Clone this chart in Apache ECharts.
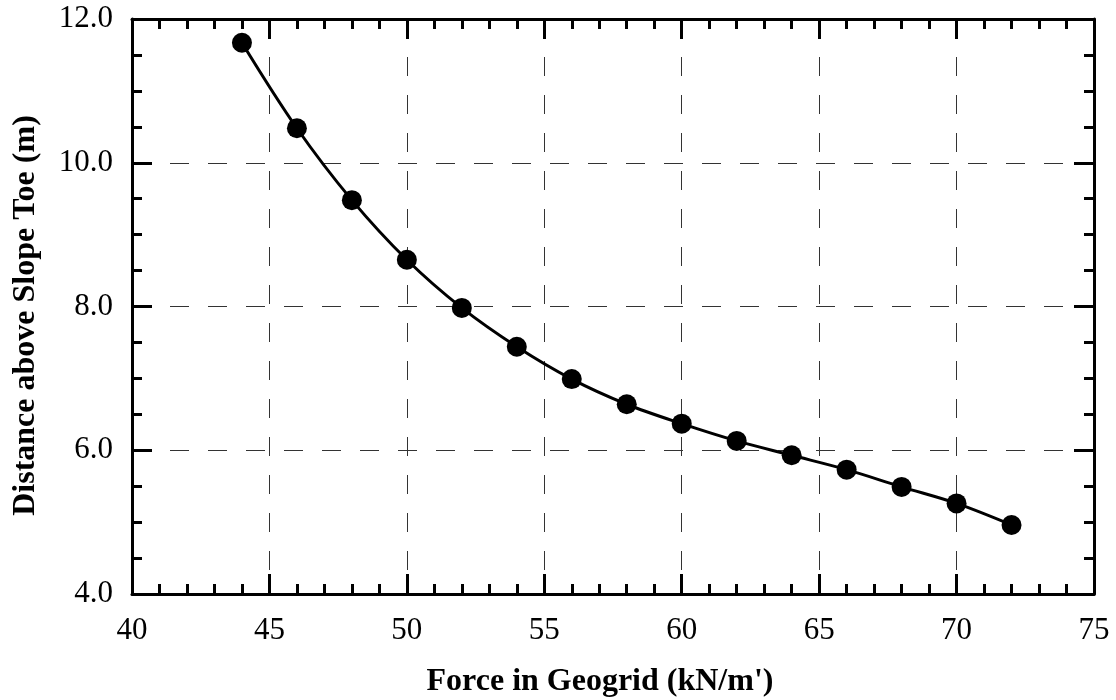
<!DOCTYPE html>
<html>
<head>
<meta charset="utf-8">
<script src="https://cdn.jsdelivr.net/npm/echarts@6/dist/echarts.min.js"></script>
<style>
  html, body { margin: 0; padding: 0; background: #fff; }
  #chart { width: 1116px; height: 700px; }
</style>
</head>
<body>
<div id="chart"></div>
<script>
// Geogrid force vs. height above the slope toe
const forceKN = [44, 46, 48, 50, 52, 54, 56, 58, 60, 62, 64, 66, 68, 70, 72];
const heightM = [11.67, 10.48, 9.48, 8.65, 7.98, 7.44, 6.99, 6.64, 6.37, 6.13, 5.93, 5.73, 5.49, 5.26, 4.96];

const xTicks = { min: 40, max: 75, interval: 5 };
const yTicks = { min: 4, max: 12, interval: 2 };

const FONT = "'Liberation Serif', 'Times New Roman', serif";
const INK = '#000';

const axisLine = { show: true, onZero: false, lineStyle: { color: INK, width: 3 } };
const majorTick = { show: true, inside: true, length: 20, lineStyle: { color: INK, width: 3 } };
const dashGrid = { show: true, lineStyle: { color: '#333', width: 1, type: [19, 19] } };

function minor(n) {
  return { show: true, splitNumber: n, length: 10, lineStyle: { color: INK, width: 3 } };
}

const chart = echarts.init(document.getElementById('chart'));
chart.setOption({
  animation: false,
  backgroundColor: '#fff',
  grid: { left: 132, right: 22, top: 19, bottom: 106, outerBoundsMode: 'none' },
  xAxis: [
    {
      type: 'value', position: 'bottom',
      min: xTicks.min, max: xTicks.max, interval: xTicks.interval,
      name: "Force in Geogrid (kN/m')", nameLocation: 'middle', nameGap: 72,
      nameTextStyle: {
        fontFamily: FONT, fontSize: 32, fontWeight: 'bold', color: INK,
        padding: [0, 26, 0, 0]
      },
      axisLine: axisLine, axisTick: majorTick, minorTick: minor(5),
      axisLabel: { fontFamily: FONT, fontSize: 31, color: INK, margin: 21 },
      splitLine: dashGrid
    },
    {
      type: 'value', position: 'top',
      min: xTicks.min, max: xTicks.max, interval: xTicks.interval,
      axisLine: axisLine, axisTick: majorTick, minorTick: minor(5),
      axisLabel: { show: false }, splitLine: { show: false }
    }
  ],
  yAxis: [
    {
      type: 'value', position: 'left',
      min: yTicks.min, max: yTicks.max, interval: yTicks.interval,
      name: 'Distance above Slope Toe (m)', nameLocation: 'middle', nameGap: 90,
      nameTextStyle: {
        fontFamily: FONT, fontSize: 32, fontWeight: 'bold', color: INK,
        padding: [0, 18, 0, 0]
      },
      axisLine: axisLine, axisTick: majorTick, minorTick: minor(4),
      axisLabel: {
        fontFamily: FONT, fontSize: 31, color: INK, margin: 19,
        formatter: v => v.toFixed(1)
      },
      splitLine: dashGrid
    },
    {
      type: 'value', position: 'right',
      min: yTicks.min, max: yTicks.max, interval: yTicks.interval,
      axisLine: axisLine, axisTick: majorTick, minorTick: minor(4),
      axisLabel: { show: false }, splitLine: { show: false }
    }
  ],
  series: [
    {
      type: 'line',
      xAxisIndex: 0, yAxisIndex: 0,
      data: forceKN.map((f, i) => [f, heightM[i]]),
      smooth: 0.35,
      symbol: 'circle', symbolSize: 20,
      lineStyle: { color: INK, width: 3 },
      itemStyle: { color: INK, borderWidth: 0 }
    }
  ]
});
</script>
</body>
</html>
